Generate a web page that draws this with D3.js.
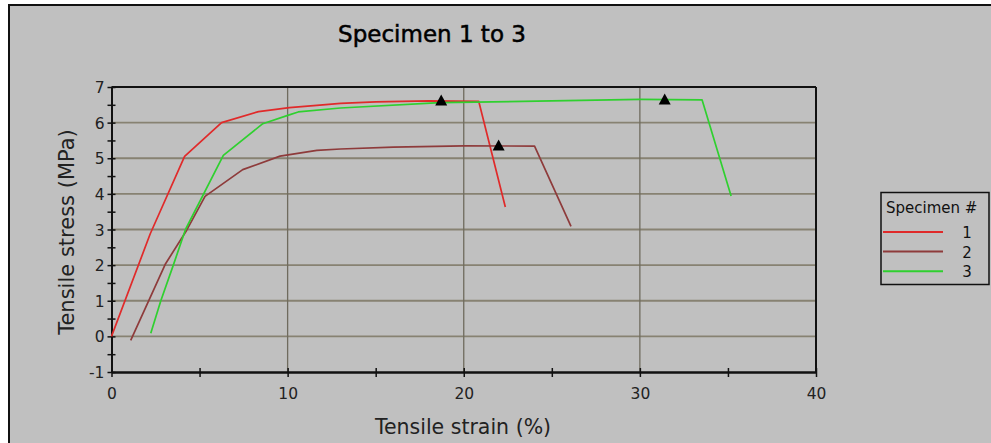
<!DOCTYPE html>
<html>
<head>
<meta charset="utf-8">
<script src="https://cdn.jsdelivr.net/npm/d3@7"></script>
<style>
  body { margin: 0; background: #fff; }
  svg { display: block; }
</style>
</head>
<body>
<div class="chartHolder"></div>
<script>
var w = 991,
    h = 443;

// Data (strain %, stress MPa)
var specimens = ["1", "2", "3"];
var colors = ["#e02a2a", "#8e3b3b", "#2fd02f"];

var strain1 = [0, 2.2, 4.15, 6.25, 8.35, 10.1, 12.0, 13.0, 15.0, 18.0, 20.85, 22.36];
var stress1 = [0, 2.88, 5.05, 6.0, 6.31, 6.42, 6.5, 6.54, 6.58, 6.61, 6.6, 3.63];

var strain2 = [1.09, 3.07, 4.27, 5.31, 7.45, 9.57, 11.66, 13.0, 16.0, 20.0, 24.02, 26.09];
var stress2 = [-0.11, 2.04, 2.98, 3.93, 4.68, 5.06, 5.22, 5.26, 5.31, 5.35, 5.34, 3.09];

var strain3 = [2.23, 2.8, 3.51, 4.2, 6.35, 8.59, 10.05, 10.6, 13.0, 18.66, 25.0, 30.0, 33.53, 35.18];
var stress3 = [0.09, 1.0, 2.0, 3.0, 5.08, 5.97, 6.21, 6.3, 6.41, 6.56, 6.61, 6.65, 6.64, 3.94];

// peak markers (triangles)
var peakStrain = [18.72, 21.98, 31.41];
var peakStress = [6.62, 5.36, 6.65];

var xTicks = [0, 10, 20, 30, 40];
var yTicks = [-1, 0, 1, 2, 3, 4, 5, 6, 7];

var svg = d3.select('.chartHolder').append('svg')
    .attr("width", w)
    .attr("height", h);

// outer panel
svg.append("rect")
    .attr("x", 9)
    .attr("y", 5)
    .attr("width", w + 10)
    .attr("height", h + 10)
    .attr("fill", "#c0c0c0")
    .attr("stroke", "#111")
    .attr("stroke-width", 2);

var x = d3.scaleLinear()
    .domain([0, 40])
    .range([111.5, 816]);

var y = d3.scaleLinear()
    .domain([-1, 7])
    .range([372, 87]);

// grid
svg.append("g").selectAll("line")
    .data(yTicks.slice(1, -1))
    .enter().append("line")
    .attr("x1", x(0)).attr("x2", x(40))
    .attr("y1", function(d){ return y(d); })
    .attr("y2", function(d){ return y(d); })
    .attr("stroke", "#878272")
    .attr("stroke-width", 1.8);

svg.append("g").selectAll("line")
    .data(xTicks.slice(1, -1))
    .enter().append("line")
    .attr("x1", function(d){ return x(d); })
    .attr("x2", function(d){ return x(d); })
    .attr("y1", y(-1)).attr("y2", y(7))
    .attr("stroke", "#6f6b5e")
    .attr("stroke-width", 1.3);

// frame of the plot
svg.append("line")
    .attr("x1", x(0)).attr("x2", x(40))
    .attr("y1", y(7)).attr("y2", y(7))
    .attr("stroke", "#111").attr("stroke-width", 2);
svg.append("line")
    .attr("x1", x(40)).attr("x2", x(40))
    .attr("y1", y(7)).attr("y2", y(-1))
    .attr("stroke", "#111").attr("stroke-width", 2);

// axes
var yAxis = d3.axisLeft(y)
    .tickValues(d3.range(-1, 7.01, 0.5))
    .tickSizeOuter(0)
    .tickFormat(function(d){ return d % 1 === 0 ? d : ""; });

var gy = svg.append("g")
    .attr("transform", "translate(" + x(0) + ",0)")
    .call(yAxis);
gy.select(".domain").attr("stroke", "#111").attr("stroke-width", 2);
gy.selectAll(".tick line")
    .attr("x1", -4).attr("x2", 4)
    .attr("stroke", "#111").attr("stroke-width", 1.5);
gy.selectAll(".tick text")
    .attr("x", -7)
    .attr("dy", "0.36em")
    .attr("fill", "#222")
    .style("font-size", "15.5px")
    .style("font-family", "DejaVu Sans, sans-serif");

var xAxis = d3.axisBottom(x)
    .tickValues(d3.range(0, 40.01, 5))
    .tickSizeOuter(0)
    .tickFormat(function(d){ return d % 10 === 0 ? d : ""; });

var gx = svg.append("g")
    .attr("transform", "translate(0," + y(-1) + ")")
    .call(xAxis);
gx.select(".domain").attr("stroke", "#111").attr("stroke-width", 2.5);
gx.selectAll(".tick line")
    .attr("y1", -4).attr("y2", 5)
    .attr("stroke", "#111").attr("stroke-width", 1.5);
gx.selectAll(".tick text")
    .attr("y", 16)
    .attr("fill", "#222")
    .style("font-size", "15.5px")
    .style("font-family", "DejaVu Sans, sans-serif");

// curves
var series = [
    d3.zip(strain1, stress1),
    d3.zip(strain2, stress2),
    d3.zip(strain3, stress3)
];

var line = d3.line()
    .x(function(d){ return x(d[0]); })
    .y(function(d){ return y(d[1]); });

svg.append("g").selectAll("path")
    .data(series)
    .enter().append("path")
    .attr("d", line)
    .attr("fill", "none")
    .attr("stroke", function(d, i){ return colors[i]; })
    .attr("stroke-width", 1.7)
    .attr("stroke-linejoin", "round");

// peak triangles
svg.append("g").selectAll("path")
    .data(d3.zip(peakStrain, peakStress))
    .enter().append("path")
    .attr("transform", function(d){ return "translate(" + x(d[0]) + "," + y(d[1]) + ")"; })
    .attr("d", "M0,-6L6,5L-6,5Z")
    .attr("fill", "#000");

// titles
svg.append("text")
    .attr("x", 432)
    .attr("y", 42)
    .attr("text-anchor", "middle")
    .attr("fill", "#000")
    .style("font-size", "23px")
    .style("font-family", "DejaVu Sans, sans-serif")
    .attr("stroke", "#000")
    .attr("stroke-width", 0.5)
    .text("Specimen 1 to 3");

svg.append("text")
    .attr("x", 463)
    .attr("y", 434)
    .attr("text-anchor", "middle")
    .attr("fill", "#222")
    .style("font-size", "20.5px")
    .style("font-family", "DejaVu Sans, sans-serif")
    .text("Tensile strain (%)");

svg.append("text")
    .attr("transform", "translate(74,232) rotate(-90)")
    .attr("text-anchor", "middle")
    .attr("fill", "#222")
    .style("font-size", "21px")
    .style("font-family", "DejaVu Sans, sans-serif")
    .text("Tensile stress (MPa)");

// legend
var legend = svg.append("g");
legend.append("rect")
    .attr("x", 881)
    .attr("y", 192.5)
    .attr("width", 108)
    .attr("height", 92)
    .attr("fill", "none")
    .attr("stroke", "#111")
    .attr("stroke-width", 1.5);
legend.append("text")
    .attr("x", 886)
    .attr("y", 213)
    .attr("fill", "#111")
    .style("font-size", "15px")
    .style("font-family", "DejaVu Sans, sans-serif")
    .text("Specimen #");

var item = legend.selectAll(".item")
    .data(specimens)
    .enter().append("g")
    .attr("class", "item")
    .attr("transform", function(d, i){ return "translate(0," + (232 + i * 19.6) + ")"; });
item.append("line")
    .attr("x1", 883).attr("x2", 943)
    .attr("stroke", function(d, i){ return colors[i]; })
    .attr("stroke-width", 2);
item.append("text")
    .attr("x", 967)
    .attr("y", 6)
    .attr("text-anchor", "middle")
    .attr("fill", "#111")
    .style("font-size", "15px")
    .style("font-family", "DejaVu Sans, sans-serif")
    .text(function(d){ return d; });
</script>
</body>
</html>
